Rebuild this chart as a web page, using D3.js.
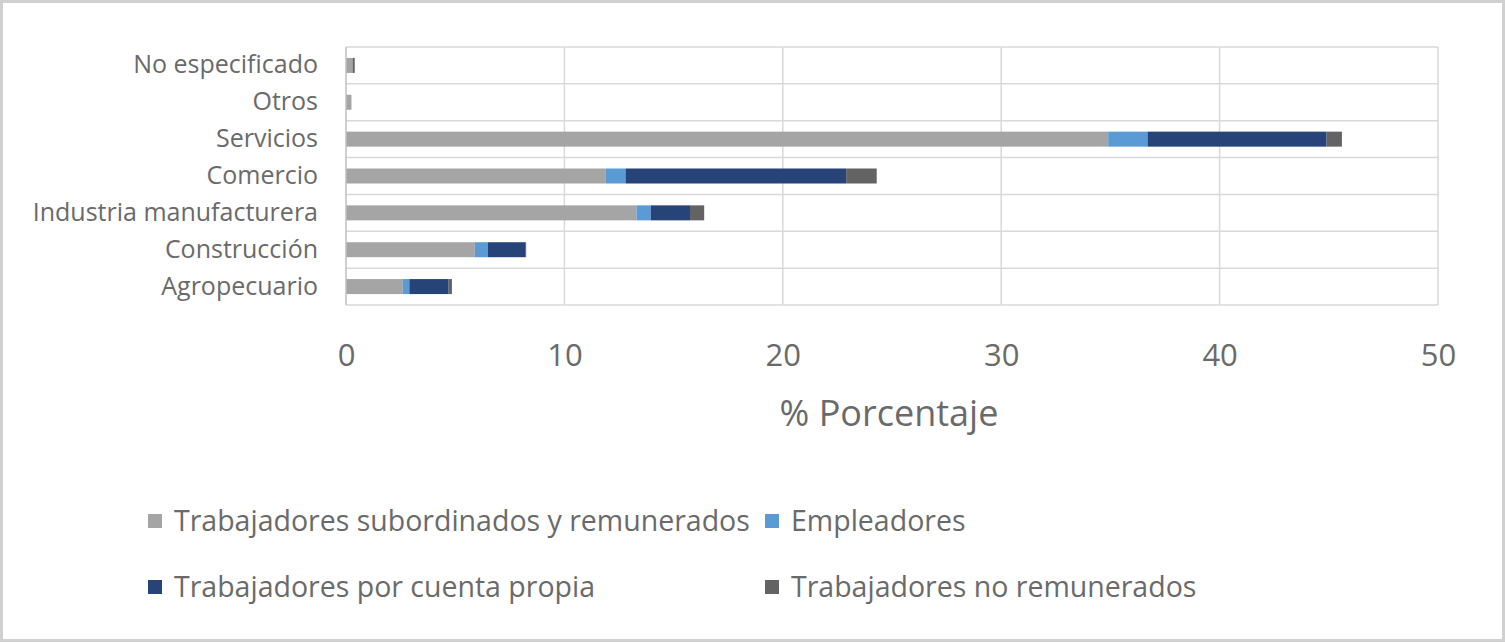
<!DOCTYPE html>
<html><head><meta charset="utf-8">
<script src="https://cdn.jsdelivr.net/npm/d3@7"></script>
<style>html,body{margin:0;padding:0;background:#fff;overflow:hidden}</style>
</head><body>
<svg id="c" width="1505" height="643"></svg>
<script>
const categories = ["No especificado","Otros","Servicios","Comercio","Industria manufacturera","Construcción","Agropecuario"];
const seriesNames = ["Trabajadores subordinados y remunerados","Empleadores","Trabajadores por cuenta propia","Trabajadores no remunerados"];
const subordinados = [0.3, 0.25, 34.9, 11.9, 13.3, 5.9, 2.6];
const empleadores = [0, 0, 1.8, 0.9, 0.65, 0.6, 0.3];
const cuentaPropia = [0, 0, 8.2, 10.1, 1.8, 1.7, 1.8];
const noRemunerados = [0.1, 0, 0.7, 1.4, 0.65, 0.05, 0.15];
const xTicks = [0,10,20,30,40,50];
const axisTitle = "% Porcentaje";
const colors = ["#a5a5a5","#5b9bd5","#264478","#636363"];

const svg = d3.select("#c");
const font = "'Open Sans', sans-serif";
const txt = "#6a6a6a";
// outer frame
svg.append("rect").attr("x",1.5).attr("y",1.5).attr("width",1502).attr("height",639)
  .attr("fill","#fff").attr("stroke","#d0d0d0").attr("stroke-width",3);

const L=346, R=1438, T=47, B=305;
const x = d3.scaleLinear().domain([0,50]).range([L,R]);
const y = d3.scaleBand().domain(categories).range([T,B]).paddingInner(0).paddingOuter(0);

const rows = categories.map((c,i)=>({cat:c, v:[subordinados[i],empleadores[i],cuentaPropia[i],noRemunerados[i]]}));
const stacked = d3.stack().keys([0,1,2,3]).value((d,k)=>d.v[k])(rows);

// vertical gridlines
svg.append("g").selectAll("line").data(xTicks.slice(1)).join("line")
  .attr("x1",d=>x(d)).attr("x2",d=>x(d)).attr("y1",T).attr("y2",B)
  .attr("stroke","#d9d9d9").attr("stroke-width",1.5);
// horizontal gridlines at category boundaries
const bounds = categories.map(c=>y(c)).concat([B]);
svg.append("g").selectAll("line").data(bounds).join("line")
  .attr("x1",L).attr("x2",R).attr("y1",d=>d).attr("y2",d=>d)
  .attr("stroke","#d9d9d9").attr("stroke-width",1.5);

// bars
const barH = 15;
svg.append("g").selectAll("g").data(stacked).join("g").attr("fill",(d,i)=>colors[i])
  .selectAll("rect").data(d=>d).join("rect")
  .attr("x",d=>x(d[0])).attr("width",d=>Math.max(0,x(d[1])-x(d[0])))
  .attr("y",d=>y(d.data.cat)+y.bandwidth()/2-barH/2).attr("height",barH);

// left axis line
svg.append("line").attr("x1",L).attr("x2",L).attr("y1",T).attr("y2",B)
  .attr("stroke","#bfbfbf").attr("stroke-width",1.5);

// category labels
const yAxis = d3.axisLeft(y).tickSize(0).tickPadding(28);
const ga = svg.append("g").attr("transform",`translate(${L},0)`).call(yAxis);
ga.select(".domain").remove();
ga.selectAll("text").attr("font-family",font).attr("font-size",25).attr("fill",txt);

// x axis labels
const xAxis = d3.axisBottom(x).tickValues(xTicks).tickSize(0).tickPadding(0);
const gx = svg.append("g").attr("transform",`translate(0,${B})`).call(xAxis);
gx.select(".domain").remove();
gx.selectAll("text").attr("font-family",font).attr("font-size",31).attr("fill",txt)
  .attr("dy",null).attr("y",61);

svg.append("text").attr("x",(L+R)/2-3).attr("y",426).attr("text-anchor","middle")
  .attr("font-family",font).attr("font-size",36).attr("fill",txt).text(axisTitle);

// legend
const legendPos = [[148,522],[765,522],[148,588],[765,588]];
const lg = svg.append("g").selectAll("g").data(seriesNames).join("g")
  .attr("transform",(d,i)=>`translate(${legendPos[i][0]},${legendPos[i][1]})`);
lg.append("rect").attr("x",0).attr("y",-8).attr("width",14).attr("height",14).attr("fill",(d,i)=>colors[i]);
lg.append("text").attr("x",26).attr("y",9).attr("font-family",font).attr("font-size",28.5)
  .attr("fill",txt).text(d=>d);
</script>
</body></html>
